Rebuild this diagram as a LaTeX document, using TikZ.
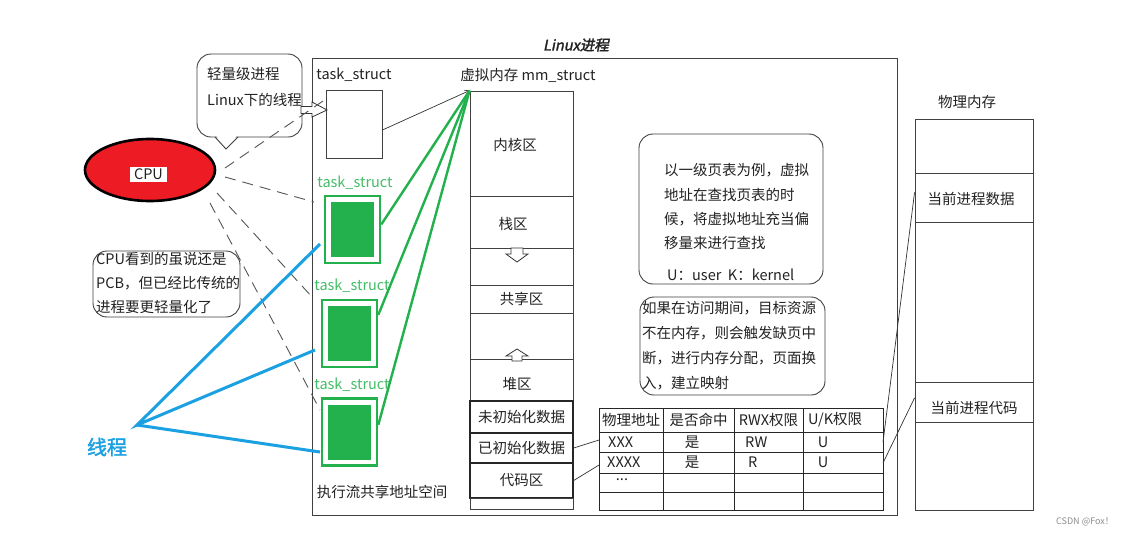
\documentclass[tikz,border=0pt]{standalone}
\usepackage{fontspec}
\setmainfont{Noto Sans CJK SC}
\newfontfamily\titlefont[FakeSlant=0.2,FakeBold=2]{Noto Sans CJK SC}
\newfontfamily\boldcjk[FakeBold=2]{Noto Sans CJK SC}
\usetikzlibrary{shapes.geometric,arrows.meta}
\definecolor{tgreen}{HTML}{22B14C}
\definecolor{tred}{HTML}{ED1C24}
\definecolor{tblue}{HTML}{1BA1E2}
\definecolor{dgray}{HTML}{555555}
\definecolor{ink}{HTML}{222222}
\begin{document}
\begin{tikzpicture}[x=1pt,y=-1pt,
  every node/.style={inner sep=0pt, text=ink, font=\fontsize{14.5}{17}\selectfont},
  lt/.style={anchor=west},
  frame/.style={draw=black!75, line width=0.9pt},
  wbox/.style={draw=black!75, line width=0.9pt, minimum width=#1},
  gouter/.style={draw=tgreen, line width=2.6pt, minimum width=55pt, minimum height=67pt},
  ginner/.style={fill=tgreen, minimum width=43pt, minimum height=55pt},
  glabel/.style={text=tgreen!85!white},
  memsec/.style={draw=black!75, line width=0.9pt, minimum width=103pt, minimum height=#1},
  memsecb/.style={draw=black!85, line width=1.4pt, minimum width=103pt, minimum height=#1},
  physsec/.style={draw=black!75, line width=0.9pt, minimum width=118pt, minimum height=#1},
  bubble/.style={draw=black!75, line width=0.9pt, rounded corners=14pt, minimum width=#1},
  cpudash/.style={draw=dgray, line width=0.9pt, dash pattern=on 11pt off 7pt},
  greenlink/.style={draw=tgreen, line width=2.4pt},
  bluelink/.style={draw=tblue, line width=3pt},
  thin/.style={draw=black!80, line width=0.7pt}
]
\useasboundingbox (0,0) rectangle (1131,536);
\fill[white] (0,0) rectangle (1131,536);

% title and process frame
\node (title) at (576,45) {\titlefont Linux进程};
\node[frame, minimum width=585pt, minimum height=457pt] (proc) at (604.5,286.5) {};

% task_structs
\node (l0) at (354,75) {task\_struct};
\node[wbox=56pt, minimum height=68pt] (ts0) at (354,124) {};
\node[glabel] (l1) at (355,183) {task\_struct};
\node[gouter] (ts1) at (352.5,229.5) {};
\node[ginner] (ti1) at (352.5,229.5) {};
\node[glabel] (l2) at (352,286) {task\_struct};
\node[gouter] (ts2) at (349.5,333.5) {};
\node[ginner] (ti2) at (349.5,333.5) {};
\node[glabel] (l3) at (352,385) {task\_struct};
\node[gouter] (ts3) at (349.5,432) {};
\node[ginner] (ti3) at (349.5,432) {};
\node (share) at (382,492) {执行流共享地址空间};

% virtual memory
\node (mmlabel) at (528,75) {虚拟内存 mm\_struct};
\node[memsec=105pt] (s_kern) at (521.5,143.5) {};
\node at (515,145) {内核区};
\node[memsec=52pt] (s_stack) at (521.5,222) {};
\node at (513,224) {栈区};
\node[memsec=37pt] (s_gap1) at (521.5,266.5) {};
\node[memsec=28pt] (s_shared) at (521.5,299) {共享区};
\node[memsec=46pt] (s_gap2) at (521.5,336) {};
\node[memsec=42pt] (s_heap) at (521.5,380) {};
\node at (517,384) {堆区};
\node[memsecb=32pt] (s_bss) at (521.5,417) {未初始化数据};
\node[memsecb=30pt] (s_data) at (521.5,448) {已初始化数据};
\node[memsecb=35pt] (s_code) at (521.5,480.5) {代码区};
\node[memsec=11pt] (s_last) at (521.5,503.5) {};
\coordinate (apex) at (s_kern.north west);
% hollow arrows in memory
\draw[black!80, line width=0.8pt, fill=white] (511,248) -- (523,248) -- (523,254) -- (528,254) -- (517,262) -- (506,254) -- (511,254) -- cycle;
\draw[black!80, line width=0.8pt, fill=white] (517,349) -- (528,356) -- (522,356) -- (522,361) -- (512,361) -- (512,356) -- (506,356) -- cycle;

% links task_struct -> mm_struct
\draw[thin, -{Straight Barb[length=4pt,width=5pt]}] (ts0.east |- 0,130) -- (apex);
\draw[greenlink] (ts1.10) -- (apex);
\draw[greenlink] (ts2.33) -- (apex);
\draw[greenlink] (ts3.14) -- (apex);

% bubble 1 (light-weight process)
\node[bubble=105pt, minimum height=83pt] (b1) at (249.5,95.5) {};
\fill[white] (216,135.5) -- (226,147) -- (237,135.5) -- cycle;
\draw[black!75, line width=0.9pt] (215,137) -- (226,149) -- (238,137);
\node[lt] at (207,74) {轻量级进程};
\node[lt] at (207,100) {Linux下的线程};
% hollow arrow from bubble to task_struct
\draw[black!80, line width=0.8pt, fill=white] (301,106.5) -- (312,106.5) -- (312,102) -- (327,110) -- (312,117) -- (312,113.5) -- (301,113.5) -- cycle;

% CPU
\node[ellipse, draw=black, line width=2.6pt, fill=tred, minimum width=130pt, minimum height=62pt] (cpu) at (150,170) {};
\node[fill=white, minimum width=37pt, minimum height=15pt] (cpulabel) at (148.5,174.5) {CPU};

% dashed lines from CPU
\coordinate (c1) at (225,168); \coordinate (e1) at (323,101);
\coordinate (c2) at (225,177); \coordinate (e2) at (314,202);
\coordinate (c3) at (217,193); \coordinate (e3) at (313,298);
\coordinate (c4) at (210,203); \coordinate (e4) at (320,410);
\draw[cpudash] (c1) -- (e1);
\draw[cpudash] (c2) -- (e2);
\draw[cpudash] (c3) -- (e3);
\draw[cpudash] (c4) -- (e4);

% bubble 2
\node[bubble=147pt, minimum height=66pt] (b2) at (166.5,284) {};
\node[lt] at (96,259) {CPU看到的虽说还是};
\node[lt] at (96,283) {PCB，但已经比传统的};
\node[lt] at (96,307) {进程要更轻量化了};

% threads
\node[text=tblue, font=\fontsize{20}{24}\selectfont] (thr) at (107,447) {\boldcjk 线程};
\coordinate (xc) at (137,425);
\coordinate (t1) at (320,244);
\coordinate (t2) at (315,350);
\coordinate (t3) at (320,452);
\draw[bluelink] (t1) -- (xc) -- (t2);
\draw[bluelink] (xc) -- (t3);

% bubble 3
\node[bubble=184pt, minimum height=150pt] (b3) at (731,209) {};
\node[lt] at (664,170) {以一级页表为例，虚拟};
\node[lt] at (664,195) {地址在查找页表的时};
\node[lt] at (664,219) {候，将虚拟地址充当偏};
\node[lt] at (664,243) {移量来进行查找};
\node[lt] at (667,275) {U：user\ \ K：kernel};

% bubble 4
\node[bubble=185pt, minimum height=98pt] (b4) at (732.5,346) {};
\node[lt] at (642,308) {如果在访问期间，目标资源};
\node[lt] at (642,333) {不在内存，则会触发缺页中};
\node[lt] at (642,358) {断，进行内存分配，页面换};
\node[lt] at (642,383) {入，建立映射};

% page table
\node[frame, draw=black!85, minimum width=284pt, minimum height=102pt] (tab) at (741,459) {};
\foreach \yy in {432,452,473,492} \draw[black!85, line width=0.9pt] (599,\yy) -- (883,\yy);
\foreach \xx in {663,734,803} \draw[black!85, line width=0.9pt] (\xx,408) -- (\xx,510);
\node at (631,420) {物理地址};
\node at (698.5,420) {是否命中};
\node at (768.5,420) {RWX权限};
\node[lt] at (808,420) {U/K权限};
\node[lt] at (608,442) {XXX};
\node at (692,442) {是};
\node[lt] at (745,442) {RW};
\node at (823,442) {U};
\node[lt] at (607,462) {XXXX};
\node at (692,462) {是};
\node[lt] at (748,462) {R};
\node at (823,462) {U};
\node at (622,480) {...};
\coordinate (r1w) at (599,440);
\coordinate (r2w) at (599,465);
\coordinate (r1e) at (883,442);
\coordinate (r2e) at (883,463);
\draw[thin] (s_data.east) -- (r1w);
\draw[thin] (s_code.east) -- (r2w);

% physical memory
\node (physlabel) at (967,102) {物理内存};
\node[physsec=391pt] (phys) at (974,314.5) {};
\node[physsec=49pt] (p_data) at (974,197.5) {};
\node at (971,199) {当前进程数据};
\node[physsec=40pt] (p_code) at (974,402) {};
\node at (974,408) {当前进程代码};
\draw[thin] (r1e) -- (p_data.175);
\draw[thin] (r2e) -- (p_code.176);

% watermark
\node[text=black!45, font=\fontsize{9}{11}\selectfont] (wm) at (1085,522) {CSDN @Fox！};
\end{tikzpicture}
\end{document}
